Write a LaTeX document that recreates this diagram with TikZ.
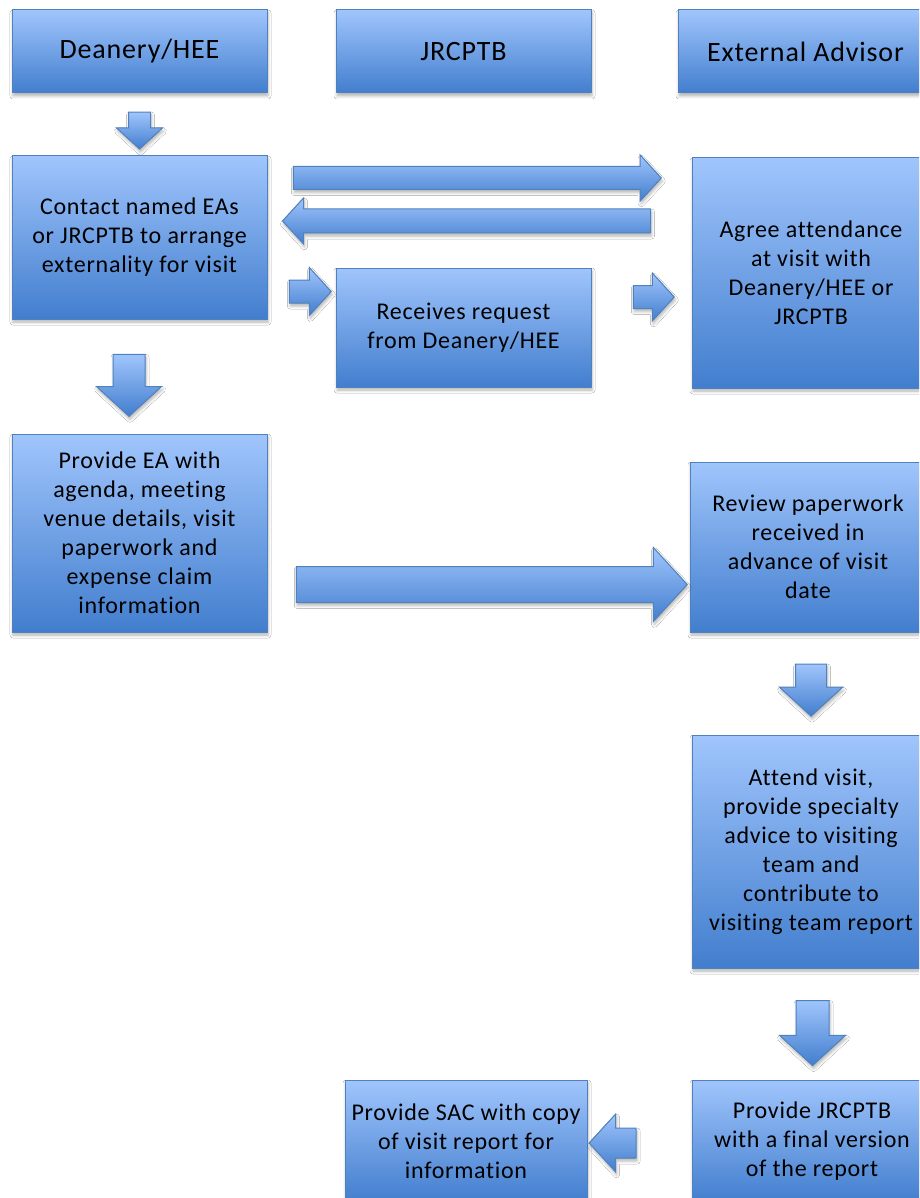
\documentclass[tikz,border=0pt]{standalone}
\usepackage{fontspec}
\setmainfont{Carlito}[LetterSpace=3, Ligatures={NoCommon}]
\usetikzlibrary{shapes.arrows,shadows.blur}
\definecolor{boxtop}{RGB}{160,197,252}
\definecolor{boxbot}{RGB}{66,126,206}
\definecolor{boxline}{RGB}{79,129,189}
\begin{document}
\begin{tikzpicture}[
    x=1pt, y=-1pt,
    every node/.style={draw=boxline, line width=1pt, top color=boxtop, bottom color=boxbot,
      blur shadow={shadow xshift=1pt, shadow yshift=-3pt, shadow opacity=30, shadow blur radius=3pt}},
    box/.style={align=center, inner sep=0pt, text=black, font=\fontsize{24}{29}\selectfont},
    head/.style={box, font=\fontsize{28}{34}\selectfont, minimum width=255pt, minimum height=83pt},
    barrow/.style n args={3}{single arrow, single arrow tip angle=95, minimum height=#1pt,
      inner sep={#2pt/2}, single arrow head extend={(#3pt-#2pt)/2}}
    ]

    \useasboundingbox[fill=white] (0,0) rectangle (919,1198);
    \clip (0,0) rectangle (919,1198);

    % column heads
    \node[head] (dean) at (139.5,51.5) {Deanery/HEE};
    \node[head] (jrc) at (463.5,51.5) {JRCPTB};
    \node[head] (ext) at (805.5,51.5) {External Advisor};

    % steps
    \node[box, minimum width=255pt, minimum height=163pt] (contact) at (139.5,237.5)
      {Contact named EAs\\or JRCPTB to arrange\\externality for visit};
    \node[box, minimum width=255pt, minimum height=119pt] (receives) at (463.5,327.5)
      {Receives request\\from Deanery/HEE};
    \node[box, minimum width=238pt, minimum height=230pt] (agree) at (811,273)
      {Agree attendance\\at visit with\\Deanery/HEE or\\JRCPTB};
    \node[box, minimum width=255pt, minimum height=198pt] (provea) at (139.5,533)
      {Provide EA with\\agenda, meeting\\venue details, visit\\paperwork and\\expense claim\\information};
    \node[box, minimum width=236pt, minimum height=170pt] (review) at (808,547)
      {Review paperwork\\received in\\advance of visit\\date};
    \node[box, minimum width=238pt, minimum height=233pt] (attend) at (811,851.5)
      {Attend visit,\\provide specialty\\advice to visiting\\team and\\contribute to\\visiting team report};
    \node[box, minimum width=240pt, minimum height=122pt] (final) at (812,1141)
      {Provide JRCPTB\\with a final version\\of the report};
    \node[box, minimum width=242pt, minimum height=122pt] (sac) at (466,1141)
      {Provide SAC with copy\\of visit report for\\information};

    % block arrows
    \node[barrow={37}{21}{45}, shape border rotate=270] (deantocontact) at (139.5,125.5) {};
    \node[barrow={62}{31}{64}, shape border rotate=270] (contacttoprovea) at (129,378) {};
    \node[barrow={368}{22}{45}] (toext) at (472,178) {};
    \node[barrow={368}{23}{45}, shape border rotate=180] (fromext) at (472,221) {};
    \node[barrow={42}{22}{47}] (contacttoreceives) at (305,291.5) {};
    \node[barrow={41}{22}{47}] (receivestoagree) at (648.5,297) {};
    \node[barrow={391}{35}{73}] (provatoreview) at (483.5,584.5) {};
    \node[barrow={52}{30}{62}, shape border rotate=270] (reviewtoattend) at (811,683) {};
    \node[barrow={65}{32}{65}, shape border rotate=270] (attendtofinal) at (812.5,1025.5) {};
    \node[barrow={47}{29}{57}, shape border rotate=180] (finaltosac) at (619.5,1143) {};

\end{tikzpicture}
\end{document}
